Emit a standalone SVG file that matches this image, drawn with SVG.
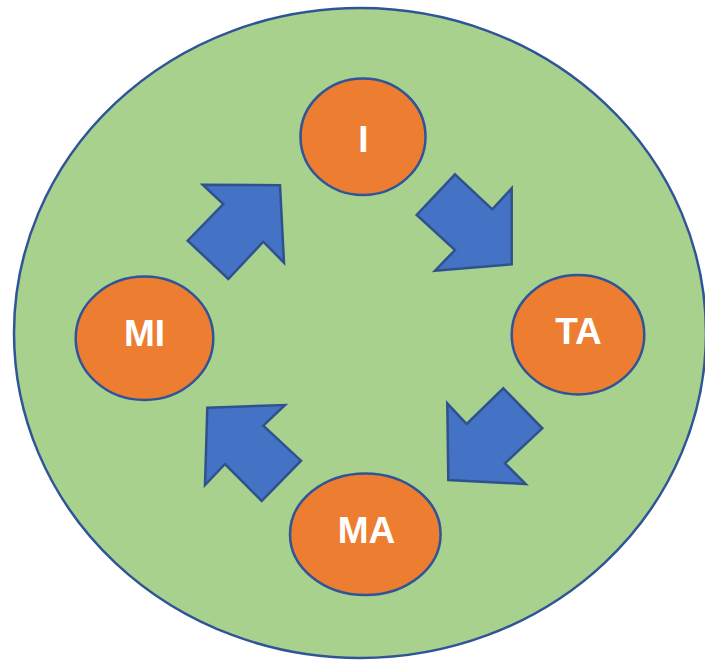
<svg xmlns="http://www.w3.org/2000/svg" width="705" height="660" viewBox="0 0 705 660">
  <style>
    .outer { fill: #A9D18E; stroke: #2F5597; stroke-width: 2.5; }
    .node ellipse { fill: #ED7D31; stroke: #2F5597; stroke-width: 2.5; }
    .node text { fill: #FFFFFF; font-family: "Liberation Sans", Arial, sans-serif; font-weight: bold; font-size: 37px; text-anchor: middle; }
    .arrow { fill: #4472C4; stroke: #2F528F; stroke-width: 2.5; stroke-linejoin: miter; }
  </style>
  <rect width="705" height="660" fill="#FFFFFF"/>
  <!-- enclosing circle -->
  <ellipse class="outer" cx="360" cy="333" rx="346" ry="325"/>

  <!-- cycle arrows -->
  <g id="connectors">
    <polygon class="arrow" points="202.7,184.7 280,185.3 284,262.7 263.3,241.7 228.3,279 187.7,240.7 223.3,204"/>
    <polygon class="arrow" points="455,174.3 492.3,209.3 511.7,188.3 511.7,264.3 435,270.7 455,250 416.7,215"/>
    <polygon class="arrow" points="447.3,403.3 466.7,424 503.3,388.3 542.3,428.3 505,463.3 525.7,484 448.3,480"/>
    <polygon class="arrow" points="207.3,407.7 285,405 263.3,425.7 301,460.7 261.7,501 225,464 205,485"/>
  </g>

  <g id="node-I" class="node">
    <ellipse cx="363" cy="136.7" rx="62.5" ry="58.3"/>
    <text x="363.5" y="152">I</text>
  </g>
  <g id="node-TA" class="node">
    <ellipse cx="578" cy="334.7" rx="66.3" ry="59.7"/>
    <text x="578.5" y="344">TA</text>
  </g>
  <g id="node-MA" class="node">
    <ellipse cx="365.3" cy="534.2" rx="75.3" ry="60.8"/>
    <text x="366.5" y="543">MA</text>
  </g>
  <g id="node-MI" class="node">
    <ellipse cx="144.5" cy="338.3" rx="68.8" ry="61.7"/>
    <text x="144.5" y="345.5">MI</text>
  </g>
</svg>
